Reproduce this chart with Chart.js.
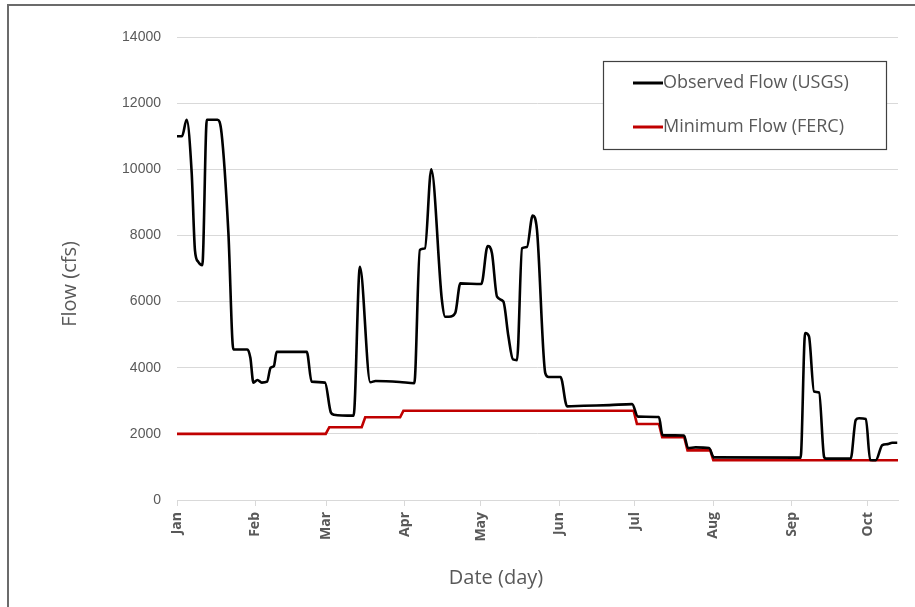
<!DOCTYPE html>
<html>
<head>
<meta charset="utf-8">
<script src="https://cdn.jsdelivr.net/npm/chart.js@4/dist/chart.umd.min.js"></script>
<style>
  html, body { margin: 0; padding: 0; background: #ffffff; }
  #wrap { width: 915px; height: 607px; position: relative; }
</style>
</head>
<body>
<div id="wrap"><canvas id="c" width="915" height="607"></canvas></div>
<script>
// ---- data (day of year, 0 = Jan 1) ----
const monthLabels = ['Jan', 'Feb', 'Mar', 'Apr', 'May', 'Jun', 'Jul', 'Aug', 'Sep', 'Oct'];
const monthStartDays = [0, 31, 59, 90, 120, 151, 181, 212, 243, 273];

const obsDays = [0, 2, 3.8, 5.8, 7.1, 8.4, 10, 11.8, 16, 17.6, 20.3, 22.3, 27.8, 29, 30.2, 31.8, 33.5, 35.6, 37, 38.3, 39.4,
  51.3, 53.2, 58.5, 60.8, 62, 69.8, 72.3, 76.4, 78.5, 88, 93.8, 96, 98, 100.5, 104.7, 106, 107.5, 110, 112, 120.3,
  122.8, 124.5, 126.5, 129, 131, 132.8, 134.4, 136.4, 138.3, 140.6, 142.3, 145.6, 146.9, 151.6, 154.2, 160.8, 171,
  179.9, 182.2, 190.5, 191.9, 200.4, 202, 205, 210.3, 212.2, 246.5, 248.3, 249.8, 251.8, 253.8, 255.8, 256.5, 266.3,
  268.3, 269.6, 272.3, 274, 276.2, 278.8, 280.8, 282.7, 284.7];
const obsFlow = [11000, 11000, 11500, 9900, 7550, 7200, 7100, 11500, 11500, 11100, 8100, 4550, 4550, 4300, 3550, 3630, 3550, 3580, 4000, 4050, 4480,
  4480, 3580, 3550, 2650, 2580, 2550, 7050, 3560, 3600, 3570, 3530, 7560, 7610, 10000, 6050, 5540, 5540, 5660, 6550, 6530,
  7680, 7460, 6150, 6000, 4950, 4250, 4230, 7610, 7650, 8600, 8160, 3830, 3720, 3720, 2830, 2850, 2870,
  2900, 2520, 2510, 1960, 1950, 1570, 1590, 1570, 1290, 1280, 5050, 4950, 3280, 3250, 1300, 1250, 1250,
  2420, 2470, 2450, 1210, 1200, 1660, 1690, 1730, 1730];

const minDays = [0, 58.8, 60.2, 73, 74.4, 88.2, 89.5, 180.5, 181.8, 190.5, 191.8, 200.5, 201.8, 210.8, 212, 285];
const minFlow = [2000, 2000, 2200, 2200, 2500, 2500, 2700, 2700, 2300, 2300, 1900, 1900, 1500, 1500, 1200, 1200];

const seriesNames = ['Observed Flow (USGS)', 'Minimum Flow (FERC)'];
const xTitle = 'Date (day)';
const yTitle = 'Flow (cfs)';

// ---- build ----
const obsPoints = obsDays.map((d, i) => ({ x: d, y: obsFlow[i] }));
const minPoints = minDays.map((d, i) => ({ x: d, y: minFlow[i] }));

const TXT = '#595959';
const GRID = '#d9d9d9';

const framePlugin = {
  id: 'frame',
  afterDraw(chart) {
    const ctx = chart.ctx;
    ctx.save();
    ctx.strokeStyle = '#6b6b6b';
    ctx.lineWidth = 2;
    ctx.beginPath();
    ctx.moveTo(8, 607);
    ctx.lineTo(8, 5);
    ctx.lineTo(915, 5);
    ctx.stroke();
    ctx.restore();
  }
};

// axis titles placed as in the original (Excel centres them off the plot centre)
const axisTitles = {
  id: 'axisTitles',
  afterDraw(chart) {
    const ctx = chart.ctx;
    ctx.save();
    ctx.fillStyle = TXT;
    ctx.font = '20px "Open Sans"';
    ctx.textAlign = 'center';
    ctx.textBaseline = 'middle';
    ctx.fillText(xTitle, 496, 578);
    ctx.translate(70, 284);
    ctx.rotate(-Math.PI / 2);
    ctx.fillText(yTitle, 0, 0);
    ctx.restore();
  }
};

const boxLegend = {
  id: 'boxLegend',
  afterDraw(chart) {
    const ctx = chart.ctx;
    ctx.save();
    ctx.fillStyle = '#ffffff';
    ctx.fillRect(603, 61, 283, 88);
    ctx.strokeStyle = '#404040';
    ctx.lineWidth = 1.2;
    ctx.strokeRect(603.5, 61.5, 283, 88);
    chart.data.datasets.forEach((ds, i) => {
      const y = 83 + i * 44;
      ctx.strokeStyle = ds.borderColor;
      ctx.lineWidth = 3;
      ctx.beginPath();
      ctx.moveTo(633, y);
      ctx.lineTo(663, y);
      ctx.stroke();
      ctx.fillStyle = TXT;
      ctx.font = '18px "Open Sans"';
      ctx.textBaseline = 'middle';
      ctx.textAlign = 'left';
      ctx.fillText(ds.label, 663, y);
    });
    ctx.restore();
  }
};

new Chart(document.getElementById('c'), {
  type: 'line',
  data: {
    datasets: [
      {
        label: seriesNames[0],
        data: obsPoints,
        borderColor: '#000000',
        borderWidth: 2.6,
        pointRadius: 0,
        cubicInterpolationMode: 'monotone',
        fill: false
      },
      {
        label: seriesNames[1],
        data: minPoints,
        borderColor: '#c00000',
        borderWidth: 2.6,
        pointRadius: 0,
        tension: 0,
        fill: false
      }
    ]
  },
  options: {
    responsive: false,
    animation: false,
    devicePixelRatio: 1,
    layout: { padding: { left: 0, right: 17, top: 37, bottom: 0 } },
    plugins: {
      legend: { display: false },
      tooltip: { enabled: false }
    },
    scales: {
      x: {
        type: 'linear',
        min: 0,
        max: 285,
        afterBuildTicks(scale) {
          scale.ticks = monthStartDays.map(v => ({ value: v }));
        },
        afterFit(scale) { scale.height = 107; },
        ticks: {
          minRotation: 90,
          maxRotation: 90,
          padding: 6,
          color: TXT,
          font: { family: '"Open Sans"', size: 14, weight: 'bold' },
          callback(value) {
            const i = monthStartDays.indexOf(value);
            return i >= 0 ? monthLabels[i] : '';
          }
        },
        grid: { display: true, drawOnChartArea: false, drawTicks: true, tickLength: 6, color: GRID },
        border: { display: true, color: GRID },
        title: { display: false }
      },
      y: {
        min: 0,
        max: 14000,
        afterFit(scale) { scale.width = 177; },
        ticks: {
          stepSize: 2000,
          padding: 16,
          color: TXT,
          font: { family: '"Liberation Sans"', size: 14 },
          callback(value) { return String(value); }
        },
        grid: { color: GRID, drawTicks: false },
        border: { display: false },
        title: { display: false }
      }
    }
  },
  plugins: [framePlugin, axisTitles, boxLegend]
});
</script>
</body>
</html>
